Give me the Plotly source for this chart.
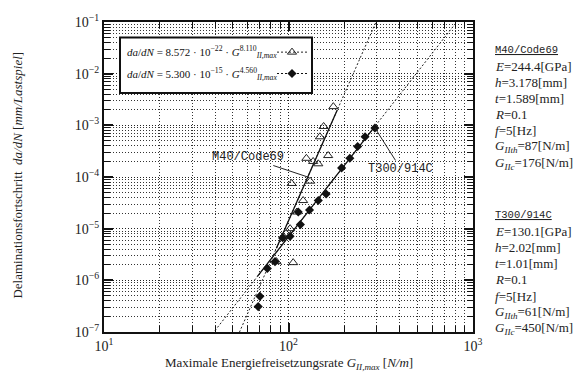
import numpy as np
import plotly.graph_objects as go

# --- measured crack growth data ---------------------------------------
m40_G = [86, 94, 102, 106, 104, 111, 120, 125, 131, 136, 145, 148, 155, 164, 175]
m40_dadn = [2.3e-6, 7.0e-6, 1.0e-5, 2.2e-6, 7.5e-5, 2.1e-5, 3.5e-5, 2.3e-4,
            8.3e-5, 2.0e-4, 1.8e-4, 6.0e-4, 9.5e-4, 2.6e-4, 2.3e-3]

t300_G = [68.5, 70, 76.8, 84.5, 93, 102, 113, 116, 130, 145, 160, 194, 215, 237, 260, 294]
t300_dadn = [3.1e-7, 4.9e-7, 1.7e-6, 2.3e-6, 6.7e-6, 7.1e-6, 2.1e-5, 1.2e-5, 2.3e-5,
             3.5e-5, 4.7e-5, 1.5e-4, 2.3e-4, 3.9e-4, 6.0e-4, 8.9e-4]

# --- Paris-law fits  da/dN = C * G^m ----------------------------------
m40_C, m40_m = 8.572e-22, 8.110
t300_C, t300_m = 5.300e-15, 4.560
m40_fit_range = [86, 184]
t300_fit_range = [68, 294]

# --- axis ticks -------------------------------------------------------
x_major = [1e1, 1e2, 1e3]
x_major_text = ["10<sup>1</sup>", "10<sup>2</sup>", "10<sup>3</sup>"]
y_major = [1e-7, 1e-6, 1e-5, 1e-4, 1e-3, 1e-2, 1e-1]
y_major_text = ["10<sup>−7</sup>", "10<sup>−6</sup>", "10<sup>−5</sup>", "10<sup>−4</sup>",
                "10<sup>−3</sup>", "10<sup>−2</sup>", "10<sup>−1</sup>"]
x_minor = [k * 10.0 ** e for e in range(1, 3) for k in range(2, 10)]
y_minor = [k * 10.0 ** e for e in range(-7, -1) for k in range(2, 10)]

# --- material data listed beside the plot ----------------------------
m40_info = ["<i>E</i>=244.4[GPa]", "<i>h</i>=3.178[mm]", "<i>t</i>=1.589[mm]",
            "<i>R</i>=0.1", "<i>f</i>=5[Hz]",
            "<i>G<sub>IIth</sub></i>=87[N/m]", "<i>G<sub>IIc</sub></i>=176[N/m]"]
t300_info = ["<i>E</i>=130.1[GPa]", "<i>h</i>=2.02[mm]", "<i>t</i>=1.01[mm]",
             "<i>R</i>=0.1", "<i>f</i>=5[Hz]",
             "<i>G<sub>IIth</sub></i>=61[N/m]", "<i>G<sub>IIc</sub></i>=450[N/m]"]

SERIF = "Liberation Serif"
MONO = "Liberation Mono"
W, H = 582, 376
ML, MR, MT, MB = 104, 109, 13, 44
PW, PH = W - ML - MR, H - MT - MB


def px_x(px):
    return (px - ML) / PW


def px_y(py):
    return 1 - (py - MT) / PH


def fit(C, m, g):
    g = np.asarray(g, dtype=float)
    return C * g ** m


fig = go.Figure()

g_all = np.logspace(1, 3, 200)
for C, m, rng in [(m40_C, m40_m, m40_fit_range), (t300_C, t300_m, t300_fit_range)]:
    fig.add_trace(go.Scatter(x=g_all, y=fit(C, m, g_all), mode="lines",
                             line=dict(color="#222", width=1, dash="2px,2px"),
                             showlegend=False, hoverinfo="skip"))
    g_seg = np.logspace(np.log10(rng[0]), np.log10(rng[1]), 50)
    fig.add_trace(go.Scatter(x=g_seg, y=fit(C, m, g_seg), mode="lines",
                             line=dict(color="#111", width=1.3),
                             showlegend=False, hoverinfo="skip"))

fig.add_trace(go.Scatter(x=m40_G, y=m40_dadn, mode="markers", showlegend=False,
                         marker=dict(symbol="triangle-up-open", size=8, color="#222",
                                     line=dict(width=1))))
fig.add_trace(go.Scatter(x=t300_G, y=t300_dadn, mode="markers", showlegend=False,
                         marker=dict(symbol="diamond", size=7, color="#111")))

# legend samples, one per formula row
fig.add_trace(go.Scatter(x=[None], y=[None], mode="lines+markers", name=" ",
                         legend="legend",
                         line=dict(color="#222", width=1, dash="2px,2px"),
                         marker=dict(symbol="triangle-up-open", size=8, color="#222")))
fig.add_trace(go.Scatter(x=[None], y=[None], mode="lines+markers", name=" ",
                         legend="legend2",
                         line=dict(color="#111", width=1, dash="2px,2px"),
                         marker=dict(symbol="diamond", size=7, color="#111")))

axis_common = dict(
    type="log", showline=True, linecolor="#111", linewidth=2, mirror="allticks",
    ticks="inside", ticklen=9, tickwidth=1.5, tickcolor="#111",
    showgrid=True, gridcolor="#222", gridwidth=1, griddash="1px,2px",
    tickfont=dict(family=SERIF, size=14, color="#222"), zeroline=False,
)
minor_common = dict(tickmode="array", ticks="inside", ticklen=6, tickwidth=1.2,
                    tickcolor="#111", showgrid=True, gridcolor="#333",
                    griddash="1px,2px", gridwidth=1)

fig.update_xaxes(range=[1, 3], tickmode="array", tickvals=x_major, ticktext=x_major_text,
                 minor=dict(tickvals=x_minor, **minor_common), **axis_common)
fig.update_yaxes(range=[-7, -1], tickmode="array", tickvals=y_major, ticktext=y_major_text,
                 minor=dict(tickvals=y_minor, **minor_common), **axis_common)

# legend box
fig.add_shape(type="rect", xref="paper", yref="paper",
              x0=px_x(120), x1=px_x(312), y0=px_y(86), y1=px_y(29),
              line=dict(color="#111", width=2), fillcolor="white", layer="above")

ann = []
formula1 = ("<i>da</i>/<i>dN</i> = 8.572 · 10<sup>−22</sup> · "
            "<i>G</i><sup>8.110</sup><sub><i>II,max</i></sub>")
formula2 = ("<i>da</i>/<i>dN</i> = 5.300 · 10<sup>−15</sup> · "
            "<i>G</i><sup>4.560</sup><sub><i>II,max</i></sub>")
for txt, py in [(formula1, 44), (formula2, 66)]:
    ann.append(dict(text=txt, xref="paper", yref="paper", x=px_x(125), y=px_y(py),
                    xanchor="left", yanchor="middle", showarrow=False,
                    font=dict(family=SERIF, size=11, color="#111")))

# callouts
m40_tip_y = -4.0
m40_tip_x = (m40_tip_y - np.log10(m40_C)) / m40_m
ann.append(dict(text="M40/Code69", xref="x", yref="y",
                x=m40_tip_x, y=m40_tip_y, ax=-60, ay=-20, showarrow=True, arrowhead=0,
                arrowwidth=1, arrowcolor="#222",
                font=dict(family=MONO, size=12, color="#222")))
ann.append(dict(text="T300/914C", xref="x", yref="y",
                x=np.log10(t300_G[-1]), y=np.log10(t300_dadn[-1]),
                ax=26, ay=41, showarrow=True, arrowhead=0, arrowwidth=1,
                arrowcolor="#222", font=dict(family=MONO, size=12, color="#222")))

# axis titles
ann.append(dict(text="Delaminationsfortschritt  <i>da/dN</i> [<i>mm/Lastspiel</i>]",
                xref="paper", yref="paper", x=px_x(18), y=px_y(171), textangle=-90,
                xanchor="center", yanchor="middle",
                showarrow=False, font=dict(family=SERIF, size=13, color="#222")))
ann.append(dict(text="Maximale Energiefreisetzungsrate <i>G<sub>II,max</sub></i> [<i>N/m</i>]",
                xref="paper", yref="paper", x=px_x(289), y=px_y(364),
                xanchor="center", yanchor="middle",
                showarrow=False, font=dict(family=SERIF, size=13, color="#222")))

# material blocks on the right
for title, lines, top in [("M40/Code69", m40_info, 42), ("T300/914C", t300_info, 212)]:
    ann.append(dict(text="<u>" + title + "</u>", xref="paper", yref="paper",
                    x=px_x(493), y=px_y(top), xanchor="left", yanchor="middle",
                    showarrow=False, font=dict(family=MONO, size=10.5, color="#222")))
    for i, line in enumerate(lines):
        ann.append(dict(text=line, xref="paper", yref="paper",
                        x=px_x(493), y=px_y(top + 16.6 * (i + 1)),
                        xanchor="left", yanchor="middle", showarrow=False,
                        font=dict(family=SERIF, size=13, color="#222")))

legend_style = dict(xanchor="left", yanchor="middle", bgcolor="rgba(0,0,0,0)",
                    borderwidth=0, font=dict(family=SERIF, size=12), itemwidth=30)
fig.update_layout(
    width=W, height=H, margin=dict(l=ML, r=MR, t=MT, b=MB),
    paper_bgcolor="white", plot_bgcolor="white",
    annotations=ann,
    legend=dict(x=px_x(272), y=px_y(44), **legend_style),
    legend2=dict(x=px_x(272), y=px_y(66), **legend_style),
)

fig.write_html("out.html")
